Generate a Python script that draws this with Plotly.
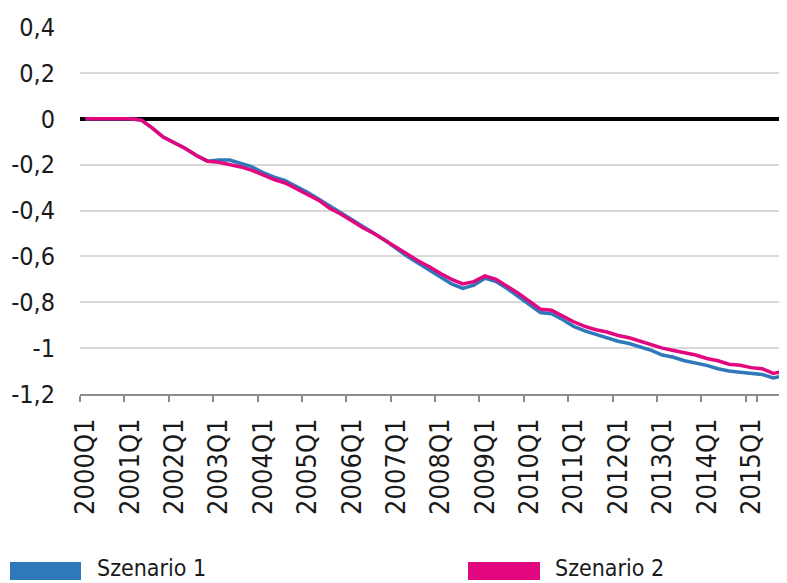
import plotly.graph_objects as go

years = list(range(2000, 2016))
quarters = [f"{y}Q{q}" for y in years for q in range(1, 5)]
tick_labels = [f"{y}Q1" for y in years]

szenario_1 = [0, 0, 0, 0, 0, -0.005, -0.04, -0.08, -0.105, -0.13, -0.16, -0.185,
              -0.18, -0.18, -0.195, -0.21, -0.235, -0.255, -0.27, -0.295,
              -0.32, -0.35, -0.38, -0.41, -0.44, -0.47, -0.50, -0.53,
              -0.565, -0.60, -0.63, -0.66, -0.69, -0.72, -0.74, -0.725,
              -0.695, -0.71, -0.74, -0.775, -0.81, -0.845, -0.85, -0.875,
              -0.905, -0.925, -0.94, -0.955, -0.97, -0.98, -0.995, -1.01,
              -1.03, -1.04, -1.055, -1.065, -1.075, -1.09, -1.10, -1.105,
              -1.11, -1.115, -1.13, -1.12]
szenario_2 = [0, 0, 0, 0, 0, -0.005, -0.04, -0.08, -0.105, -0.13, -0.16, -0.185,
              -0.19, -0.20, -0.21, -0.225, -0.245, -0.265, -0.28, -0.305,
              -0.33, -0.355, -0.39, -0.415, -0.445, -0.475, -0.50, -0.53,
              -0.56, -0.59, -0.62, -0.645, -0.675, -0.70, -0.72, -0.71,
              -0.685, -0.70, -0.73, -0.76, -0.795, -0.83, -0.835, -0.86,
              -0.885, -0.905, -0.92, -0.93, -0.945, -0.955, -0.97, -0.985,
              -1.0, -1.01, -1.02, -1.03, -1.045, -1.055, -1.07, -1.075,
              -1.085, -1.09, -1.11, -1.10]

y_ticks = [0.4, 0.2, 0, -0.2, -0.4, -0.6, -0.8, -1, -1.2]
y_tick_text = ["0,4", "0,2", "0", "-0,2", "-0,4", "-0,6", "-0,8", "-1", "-1,2"]

names = ["Szenario 1", "Szenario 2"]
colors = ["#2f78b9", "#e2077f"]

FONT = "Liberation Sans Narrow, Arial Narrow, DejaVu Sans Condensed, sans-serif"

fig = go.Figure()
for name, vals, col in zip(names, [szenario_1, szenario_2], colors):
    fig.add_trace(go.Scatter(x=quarters, y=vals, mode="lines", name=name,
                             line=dict(color=col, width=3.5), showlegend=False))

# the page body adds an 8px offset, so margins are compensated
fig.update_layout(
    width=787, height=583,
    margin=dict(l=72, r=8, t=19, b=197),
    paper_bgcolor="white", plot_bgcolor="white",
    font=dict(family=FONT, size=26, color="#1a1a1a"),
    xaxis=dict(type="category", categoryorder="array", categoryarray=quarters,
               range=[-0.5, 63.23], tickmode="array", tickvals=tick_labels,
               ticktext=tick_labels, tickangle=-90, tickson="boundaries",
               ticks="outside", ticklen=6, tickwidth=1.5, tickcolor="#8c8c8c",
               showline=True, linecolor="#8c8c8c", linewidth=1.5,
               showgrid=False, automargin=False, ticklabelstandoff=12,
               tickfont=dict(size=27, family=FONT)),
    yaxis=dict(range=[-1.2, 0.4], tickmode="array", tickvals=y_ticks,
               ticktext=y_tick_text, showgrid=True, gridcolor="#d9d9d9",
               gridwidth=2, zeroline=True, zerolinecolor="black",
               zerolinewidth=4, showline=False, ticks="", ticklabelstandoff=24,
               automargin=False, tickfont=dict(size=25, family=FONT)),
)

# legend drawn below the chart (helpers take on-screen pixel positions)
px = lambda p: (p - 80) / 707
py = lambda p: (394 - p) / 367
legend_items = [(10, 81, 95), (468, 540, 553)]
for (x0, x1, tx), name, col in zip(legend_items, names, colors):
    fig.add_shape(type="rect", xref="paper", yref="paper",
                  x0=px(x0), x1=px(x1), y0=py(580), y1=py(562),
                  fillcolor=col, line=dict(width=0), layer="above")
    fig.add_annotation(xref="paper", yref="paper", x=px(tx), y=py(568),
                       xanchor="left", yanchor="middle", text=name,
                       showarrow=False, font=dict(size=23, family=FONT))

fig.write_html("out.html")
